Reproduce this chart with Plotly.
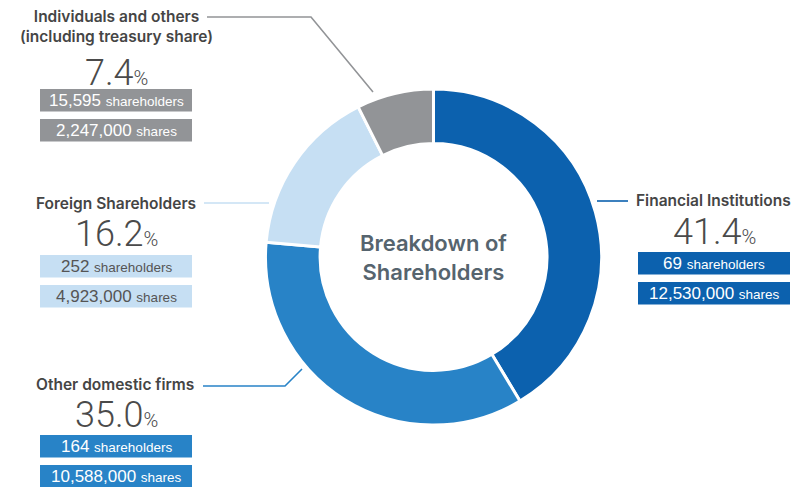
import plotly.graph_objects as go

# Shareholder composition
categories = ["Financial Institutions", "Other domestic firms", "Foreign Shareholders",
              "Individuals and others<br>(including treasury share)"]
percent = [41.4, 35.0, 16.2, 7.4]
shareholders = ["69", "164", "252", "15,595"]
shares = ["12,530,000", "10,588,000", "4,923,000", "2,247,000"]
colors = ["#0c61ae", "#2883c7", "#c6dff3", "#929497"]
box_text = ["#ffffff", "#ffffff", "#555555", "#ffffff"]

W, H = 795, 487


def px(x):
    return x / W


def py(y):
    return 1 - y / H


fig = go.Figure()

# donut: centre (433.5, 257), outer radius 168
cx, cy, r = 433.5, 257, 168
fig.add_trace(go.Pie(
    labels=categories,
    values=percent,
    sort=False,
    direction="clockwise",
    rotation=0,
    hole=0.675,
    marker=dict(colors=colors, line=dict(color="white", width=3)),
    textinfo="none",
    hoverinfo="label+percent",
    showlegend=False,
    domain=dict(x=[px(cx - r), px(cx + r)], y=[py(cy + r), py(cy - r)]),
))

FONT = "Liberation Sans"
TITLE_FONT = "Inter"
annotations = []
shapes = []

annotations.append(dict(
    x=px(cx), y=py(cy), xref="paper", yref="paper",
    text="Breakdown of<br>Shareholders", showarrow=False,
    font=dict(family=TITLE_FONT, size=22, color="#56646e", weight=600),
    align="center", xanchor="center", yanchor="middle",
))

# label blocks: (title centre x, title centre y, percent y, box x0, box x1, box1 y0, box2 y0)
blocks = [
    (713, 200, 232, 638, 790, 252, 282),
    (115, 384, 415, 40, 192, 435, 465),
    (116, 203, 234, 40, 192, 255, 285),
    (116, 27, 73, 40, 192, 89, 119),
]

for i, (tx, ty, pyy, bx0, bx1, b1, b2) in enumerate(blocks):
    annotations.append(dict(
        x=px(tx), y=py(ty), xref="paper", yref="paper",
        text=categories[i], showarrow=False, align="center",
        font=dict(family=TITLE_FONT, size=15.5, color="#454545", weight=600),
        xanchor="center", yanchor="middle",
    ))
    annotations.append(dict(
        x=px((bx0 + bx1) / 2), y=py(pyy), xref="paper", yref="paper",
        text=f"{percent[i]:.1f}<span style='font-size:20px'>%</span>",
        showarrow=False,
        font=dict(family="Roboto", size=36, color="#4a4a4a", weight=300),
        xanchor="center", yanchor="middle",
    ))
    for y0, num, unit in ((b1, shareholders[i], "shareholders"), (b2, shares[i], "shares")):
        shapes.append(dict(
            type="rect", xref="paper", yref="paper",
            x0=px(bx0), x1=px(bx1), y0=py(y0 + 22.5), y1=py(y0),
            fillcolor=colors[i], line=dict(width=0), layer="below",
        ))
        annotations.append(dict(
            x=px((bx0 + bx1) / 2), y=py(y0 + 11.5), xref="paper", yref="paper",
            text=f"{num} <span style='font-size:13.5px'>{unit}</span>",
            showarrow=False,
            font=dict(family=FONT, size=17, color=box_text[i], weight=400),
            xanchor="center", yanchor="middle",
        ))

# leader lines
leaders = [
    ([(597, 201), (628, 201)], colors[0]),
    ([(203, 386), (285, 386), (302, 369)], colors[1]),
    ([(204, 203), (269, 203)], colors[2]),
    ([(207, 17), (311, 17), (373, 92)], "#929497"),
]
for pts, col in leaders:
    path = "M " + " L ".join(f"{px(x)},{py(y)}" for x, y in pts)
    shapes.append(dict(type="path", xref="paper", yref="paper", path=path,
                       line=dict(color=col, width=1.6)))

fig.update_layout(
    width=W, height=H,
    margin=dict(l=0, r=0, t=0, b=0),
    paper_bgcolor="white", plot_bgcolor="white",
    annotations=annotations, shapes=shapes,
)

fig.write_html("out.html", config={"displayModeBar": False})
